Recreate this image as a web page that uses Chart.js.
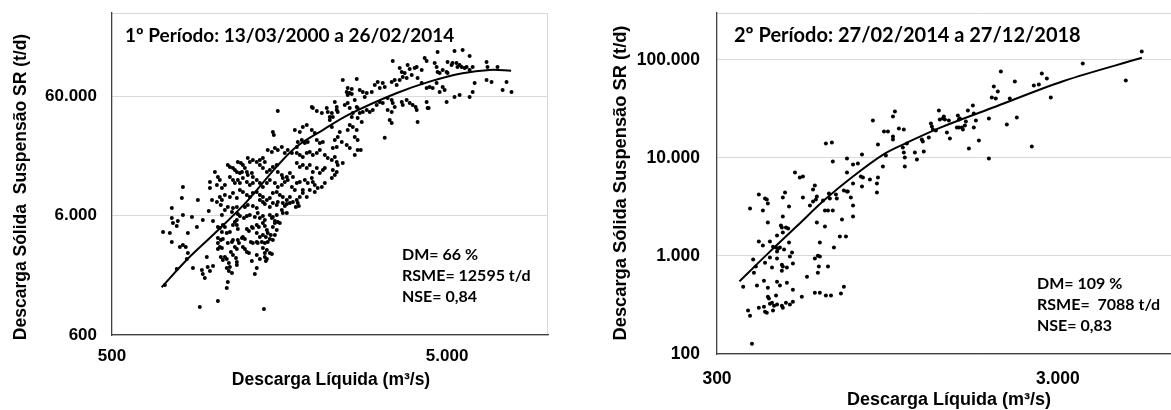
<!DOCTYPE html>
<html lang="pt-BR">
<head>
<meta charset="utf-8">
<title>Descarga sólida em suspensão × descarga líquida</title>
<script src="https://cdn.jsdelivr.net/npm/chart.js@4.4.1/dist/chart.umd.min.js"></script>
<style>
  html, body { margin: 0; padding: 0; background: #fff; overflow: hidden; }
  #wrap { position: relative; width: 1171px; height: 410px; overflow: hidden; }
  #c1 { position: absolute; left: 0; top: 0; }
  #c2 { position: absolute; left: 580px; top: 0; }
</style>
</head>
<body>
<div id="wrap">
  <canvas id="c1" width="580" height="410"></canvas>
  <canvas id="c2" width="680" height="410"></canvas>
</div>
<script>
// ---- 1º período: 13/03/2000 a 26/02/2014 ----
// descarga líquida (m³/s)
const q1 = [
  754,710,744,754,754,760,780,786,814,866,
  842,797,814,830,842,836,780,719,872,927,
  933,946,965,980,1001,959,896,933,972,1001,
  1056,1064,1035,1049,1064,1071,1086,1035,1056,1071,
  1035,1049,1064,1035,1100,1124,1108,1140,1148,1056,
  1071,1086,1100,1116,1124,1100,1116,1140,1132,1148,
  1172,1179,1108,1100,1035,914,1420,1179,1163,1179,
  1187,1196,1148,1163,1179,1140,1148,1179,1187,1204,
  1179,1187,1221,1229,1246,1229,1246,1263,1281,1307,
  1298,1316,1263,1281,1307,1316,1238,1263,1289,1334,
  1246,1271,1316,1352,1361,1381,1410,1429,1352,1371,
  1410,1429,1449,1352,1381,1410,1439,1352,1361,1400,
  1429,1458,1479,1410,1449,1429,1352,1381,1352,1334,
  1429,1439,1449,1479,1500,1458,1489,1510,1531,1479,
  1500,1510,1531,1551,1510,1531,1551,1562,1584,1606,
  1617,1662,1639,1479,1510,1551,1562,1617,1662,1697,
  1792,1805,1381,1410,1429,1562,1510,1520,1756,1817,
  1855,1906,1973,2014,1842,1881,1919,1792,1780,2042,
  2085,2129,1458,1500,1531,1562,1606,1639,1673,1721,
  1780,1817,1855,1906,1946,1987,2042,2085,2158,2202,
  2264,2311,2342,2358,2441,1271,1289,1316,1352,1381,
  1410,1429,1187,1212,1229,1108,1124,1148,1163,1179,
  1204,1221,1246,1263,1271,1307,1316,1381,1410,1449,
  1479,1510,1551,1562,1606,1617,1662,1697,1733,1780,
  1817,1855,1906,1946,1987,2042,2085,2129,1780,1817,
  1881,1919,1973,1987,2014,2158,980,1014,1035,1049,
  1028,1064,1086,1124,1148,1163,1187,1204,1229,1263,
  1289,1316,1352,1381,1410,1449,1479,1531,1562,1606,
  1639,1673,1721,1756,814,808,902,980,994,1049,
  1064,1086,1124,1148,1179,1204,1229,1263,1289,1316,
  1352,1381,1410,1449,1479,1510,1551,1584,1617,1662,
  1697,1733,1780,1817,1855,1906,1946,2014,2055,2114,
  2158,2264,2311,2342,1086,1108,1028,2280,1855,1768,
  2762,3257,4082,4406,4028,3441,4683,5261,5562,5836,
  4286,4344,3812,3866,4001,4056,4199,3610,3661,3736,
  4590,4652,4683,4750,4850,4983,5016,5016,5154,5190,
  5332,5368,5448,5524,5639,5715,5836,5959,6556,6600,
  7068,2441,2687,2508,2525,2561,2597,2743,2801,2878,
  2839,2979,3041,3103,3147,3213,3257,3417,3488,3535,
  3610,3686,3787,3920,4082,4199,4344,4652,4850,4916,
  4435,4528,4750,4983,5261,5448,5836,5959,6556,6787,
  6040,7321,7781,7521,2311,2342,2358,2280,2475,2525,
  2561,2615,2597,2704,2743,2801,2878,2938,3000,2704,
  2781,3082,3147,3213,3323,3417,3441,3488,3323,3417,
  3370,3417,3661,3686,3787,3866,3947,4056,4344,4373,
  2525,2561,2615,2687,2651,2704,2508,2561,2651,2704,
  2391,2358,2311,2424,2342,2280,2233,2264,2597,2525,
  1973,1987,2042,2114,2187,2202,2264,2342,2233,2651,
  2687
];
// descarga sólida em suspensão (t/d)
const s1 = [
  6962,4380,4298,3611,5740,5213,4920,5417,6082,5854,
  4298,3281,3409,3281,2922,2600,2144,1575,2187,2104,
  1948,1803,2230,2064,2274,2705,4826,5522,6571,5417,
  7377,6082,4826,4732,4380,5014,4826,3902,3754,3825,
  3544,3281,3217,3153,4298,4380,3544,3611,3754,2705,
  2552,2705,2600,2409,2230,2187,2064,1986,2977,2810,
  2652,2455,1669,1487,1157,1030,990,2317,3281,3153,
  3754,3544,5014,5312,5522,6443,6962,7100,6202,5968,
  5014,4638,3902,3979,3825,3281,3153,2977,2922,2504,
  3611,3544,4638,4466,4826,4732,5740,5968,6082,5854,
  7100,7377,7238,6962,6323,5740,5968,5522,5014,4826,
  5213,4920,4553,4298,3979,4134,3979,3611,3544,3611,
  3544,3611,3825,3217,3095,2922,2810,2600,2187,1948,
  2705,2504,2600,2922,2866,4298,4134,3754,4134,6082,
  5740,5854,5417,6082,4826,5213,4553,5312,5213,6698,
  6323,6323,7238,7100,7669,7377,7815,7669,7523,7669,
  7669,7238,8124,7815,7523,45260,30180,28480,31370,30180,
  33260,34550,31370,29610,25860,24410,24880,24880,22600,25860,
  24410,24880,21320,20510,22160,21320,22600,20130,21320,20130,
  20130,19360,18630,20130,20510,19360,20130,21320,19360,18270,
  17580,18630,16910,15960,16600,18270,16910,17580,16910,17580,
  18270,16910,16910,16600,15960,15960,15360,15070,14500,13950,
  13690,13950,15070,13950,13170,13690,12670,15960,15070,13950,
  14500,15360,15960,13950,13170,12430,12670,13690,12670,16600,
  15360,15960,15070,15960,13950,15070,13690,14500,11280,11500,
  11950,11280,12430,11500,10850,15070,11500,13950,12670,11950,
  10850,10240,10850,12670,11950,11280,11950,11280,12430,11500,
  10850,11280,11950,11280,10440,11280,11950,11280,10440,10850,
  11500,11950,10440,9853,10440,8444,8124,10240,8124,8612,
  8124,8947,8612,9301,8444,9853,9479,8947,8612,9301,
  9479,8947,8612,8124,8444,9301,9479,8947,8612,8124,
  8612,7815,8124,8612,9301,8612,9853,9479,10240,10440,
  11280,12430,13170,13950,6698,7100,7815,14500,9853,7100,
  21320,27000,36600,47970,48920,118800,141300,144100,146900,130900,
  125900,118800,110000,101700,103800,105800,99860,103800,96070,94270,
  114300,105800,96070,94270,99860,96070,94270,116500,110000,114300,
  114300,105800,110000,105800,103800,105800,99860,105800,116500,105800,
  105800,82300,83880,65290,70530,64070,69130,67870,65290,64070,
  59320,65290,74730,79170,70530,77690,71930,79170,82300,74730,
  82300,87280,85580,90670,85580,77690,70530,77690,71930,67870,
  71930,70530,65290,53840,59320,61630,59320,65290,82300,79170,
  77690,67870,65290,79170,53840,48920,44390,40330,50820,52840,
  47970,43560,40330,47970,43560,44390,46140,44390,46140,39540,
  36600,50820,53840,52840,58160,55970,52840,48920,46140,44390,
  38050,35920,53840,50820,55970,52840,50820,46140,53840,47970,
  31370,34550,33260,31370,27420,25860,23480,22160,19360,21320,
  30180,27420,25860,24880,22600,22160,38050,33260,62850,61630,
  48920,47970,45260,43560,47970,44390,43560,46140,40330,55970,
  48920
];
// curva ajustada (1º período)
const q1Fit = [703, 835, 1013, 1260, 1548, 1775, 2127, 2560, 3526, 4431, 5559, 6690, 7762];
const s1Fit = [1508, 2553, 4270, 7840, 15400, 22690, 31320, 42590, 63710, 79740, 93770, 99940, 98600];
const q1Ticks = [500, 5000];
const s1Ticks = [600, 6000, 60000];
const period1 = '1º Período: 13/03/2000 a 26/02/2014';
const stats1 = ['DM= 66 %', 'RSME= 12595 t/d', 'NSE= 0,84'];

// ---- 2º período: 27/02/2014 a 27/12/2018 ----
const q2 = [
  860,998,985,927,952,985,985,1025,1060,890,
  1082,1273,1281,1290,1316,1343,1352,1197,1205,1255,
  1142,1213,1053,1060,1067,939,920,1067,1158,799,
  777,752,722,656,626,652,722,793,804,843,
  890,884,884,799,752,707,722,726,741,581,
  574,589,536,525,536,508,475,468,639,670,
  643,674,614,398,415,375,409,423,420,488,
  468,423,462,465,478,485,468,450,398,409,
  429,438,447,453,459,472,488,450,498,383,
  390,385,415,429,450,435,465,468,481,465,
  491,501,358,393,412,423,450,459,481,501,
  423,426,447,435,450,441,429,465,468,478,
  491,501,398,412,415,420,438,370,375,532,
  551,581,593,601,593,597,635,581,601,626,
  648,693,707,661,601,622,589,622,635,656,
  698,688,717,752,752,562,574,585,380,5290,
  3551,4749,2042,1947,2000,1921,1973,2244,2169,2693,
  2786,2551,2639,2861,2274,2126,1883,2517,1883,1760,
  1645,1690,1701,1634,1725,1701,1612,1601,1569,1580,
  1538,1517,1527,1538,1548,1437,1418,1447,1380,1389,
  1399
];
const s2 = [
  24000,29680,26390,18560,18560,16500,15380,19900,19450,13670,
  14000,22380,20860,19450,19000,30390,24590,15380,14670,16120,
  11330,11600,12740,11330,10080,10560,8151,8151,9609,10810,
  8747,8543,9842,9168,14000,14330,7080,6444,6295,6006,
  6295,5467,4425,5095,5467,4638,4530,4530,3934,5216,
  4748,4028,3934,6295,6444,7080,4425,3934,4322,4221,
  3843,3843,3667,4221,3843,3038,2899,3417,3754,3185,
  2518,2187,2038,1945,1945,1900,1729,1611,1400,1274,
  1400,1244,1216,1187,1216,1160,1367,1107,1081,917,
  778,675,854,961,939,760,815,778,760,708,
  984,835,486,498,560,475,547,498,534,453,
  384,367,394,334,319,311,326,311,297,334,
  319,342,297,304,270,264,277,277,246,384,
  615,939,1007,984,675,778,778,422,422,394,
  394,413,486,1216,1367,1991,2187,2899,2899,2899,
  2347,1574,1574,3260,2518,3260,3582,3754,127,121600,
  91670,61490,75970,53400,47480,41230,40280,60060,40280,72480,
  64440,54670,55970,41230,25780,21860,25180,13050,9842,15020,
  12450,34170,28320,30390,24020,20380,23460,21360,20380,19450,
  20380,20380,27020,24590,25180,24020,18130,15740,25180,26390,
  24590
];
const q2Fit = [349, 420, 514, 622, 753, 922, 1080, 1351, 1984, 3108, 5295];
const s2Fit = [550, 1031, 2005, 3754, 6490, 10810, 14220, 20230, 33610, 60470, 104800];
const q2Ticks = [300, 3000];
const s2Ticks = [100, 1000, 10000, 100000];
const period2 = '2º Período: 27/02/2014 a 27/12/2018';
const stats2 = ['DM= 109 %', 'RSME=  7088 t/d', 'NSE= 0,83'];

const yTitle1 = 'Descarga Sólida  Suspensão SR (t/d)';
const yTitle2 = 'Descarga Sólida Suspensão SR (t/d)';
const xTitle = 'Descarga Líquida (m³/s)';

// ---- drawing ----
const AXIS_FONT = '"Liberation Sans", Arial, sans-serif';
const NOTE_FONT = 'Lato, "Open Sans", sans-serif';
const fmt = v => String(v).replace(/\B(?=(\d{3})+(?!\d))/g, '.');

// light plot frame plus the free text of each panel
function panelDecor(texts) {
  return {
    id: 'panelDecor',
    beforeDraw(chart) {
      const { ctx, chartArea: a } = chart;
      ctx.save();
      ctx.strokeStyle = '#d9d9d9';
      ctx.lineWidth = 1;
      ctx.beginPath();
      ctx.moveTo(a.left, a.top + 0.5);
      ctx.lineTo(a.right - 0.5, a.top + 0.5);
      ctx.lineTo(a.right - 0.5, a.bottom);
      ctx.stroke();
      ctx.restore();
    },
    afterDraw(chart) {
      const ctx = chart.ctx;
      texts.forEach(t => {
        ctx.save();
        ctx.font = t.font;
        ctx.fillStyle = '#000';
        ctx.textAlign = t.align || 'left';
        ctx.textBaseline = t.baseline || 'alphabetic';
        ctx.translate(t.x, t.y);
        if (t.rotate) ctx.rotate(t.rotate);
        ctx.fillText(t.text, 0, 0);
        ctx.restore();
      });
    }
  };
}

// keep the plot area exactly where the layout puts it: no extra room for edge labels
function fixAxisBox(size, key) {
  return s => {
    s[key] = size;
    s.paddingTop = 0; s.paddingBottom = 0; s.paddingLeft = 0; s.paddingRight = 0;
  };
}

function makePanel(id, p) {
  const pts = p.q.map((q, i) => ({ x: q, y: p.s[i] }));
  const fit = p.qFit.map((q, i) => ({ x: q, y: p.sFit[i] }));
  return new Chart(document.getElementById(id), {
    type: 'scatter',
    data: {
      datasets: [
        { data: pts, pointRadius: 2, pointHoverRadius: 2, backgroundColor: '#000', borderColor: '#000', pointBorderWidth: 0 },
        { data: fit, showLine: true, borderColor: '#000', borderWidth: 2, pointRadius: 0, tension: 0.35, fill: false }
      ]
    },
    options: {
      responsive: false,
      animation: false,
      events: [],
      layout: { padding: { left: 0, right: p.padRight, top: 13, bottom: 0 } },
      plugins: { legend: { display: false }, tooltip: { enabled: false } },
      scales: {
        x: {
          type: 'logarithmic', min: p.xMin, max: p.xMax,
          afterBuildTicks: s => { s.ticks = p.xTicks.map(v => ({ value: v })); },
          afterFit: fixAxisBox(p.xAxisH, 'height'),
          grid: { display: false, drawTicks: false },
          border: { display: true, color: '#404040', width: 1.3 },
          ticks: { autoSkip: false, maxRotation: 0, padding: p.xPad, color: '#000',
                   font: { family: AXIS_FONT, size: p.tickSize, weight: 'bold' }, callback: v => fmt(v) }
        },
        y: {
          type: 'logarithmic', min: p.yMin, max: p.yMax,
          afterBuildTicks: s => { s.ticks = p.yTicks.map(v => ({ value: v })); },
          afterFit: fixAxisBox(p.yAxisW, 'width'),
          grid: { color: '#d9d9d9', lineWidth: 1, drawTicks: false },
          border: { display: true, color: '#404040', width: 1.3 },
          ticks: { autoSkip: false, padding: p.yPad, color: '#000',
                   font: { family: AXIS_FONT, size: p.tickSize, weight: 'bold' }, callback: v => fmt(v) }
        }
      }
    },
    plugins: [panelDecor(p.texts)]
  });
}

const titleFont = s => 'bold ' + s + 'px ' + AXIS_FONT;
const noteFont = s => 'bold ' + s + 'px ' + NOTE_FONT;

makePanel('c1', {
  q: q1, s: s1, qFit: q1Fit, sFit: s1Fit,
  xMin: 500, xMax: 10000, yMin: 600, yMax: 300000,
  xTicks: q1Ticks, yTicks: s1Ticks,
  padRight: 32, xAxisH: 75, yAxisW: 112, xPad: 11, yPad: 15, tickSize: 17,
  texts: [
    { text: yTitle1, x: 21, y: 187, rotate: -Math.PI / 2, align: 'center', baseline: 'middle', font: titleFont(17.5) },
    { text: xTitle, x: 331, y: 380, align: 'center', baseline: 'middle', font: titleFont(17.5) },
    { text: period1, x: 125, y: 42, font: noteFont(19) },
    { text: stats1[0], x: 402, y: 260, font: noteFont(16) },
    { text: stats1[1], x: 402, y: 281, font: noteFont(16) },
    { text: stats1[2], x: 402, y: 302, font: noteFont(16) }
  ]
});

makePanel('c2', {
  q: q2, s: s2, qFit: q2Fit, sFit: s2Fit,
  xMin: 300, xMax: 10000, yMin: 100, yMax: 300000,
  xTicks: q2Ticks, yTicks: s2Ticks,
  padRight: 24, xAxisH: 56, yAxisW: 137, xPad: 15, yPad: 17, tickSize: 17.5,
  texts: [
    { text: yTitle2, x: 41, y: 183, rotate: -Math.PI / 2, align: 'center', baseline: 'middle', font: titleFont(18.3) },
    { text: xTitle, x: 369, y: 400, align: 'center', baseline: 'middle', font: titleFont(18) },
    { text: period2, x: 154, y: 42, font: noteFont(20) },
    { text: stats2[0], x: 457, y: 289, font: noteFont(16) },
    { text: stats2[1], x: 457, y: 310, font: noteFont(16) },
    { text: stats2[2], x: 457, y: 331, font: noteFont(16) }
  ]
});
</script>
</body>
</html>
